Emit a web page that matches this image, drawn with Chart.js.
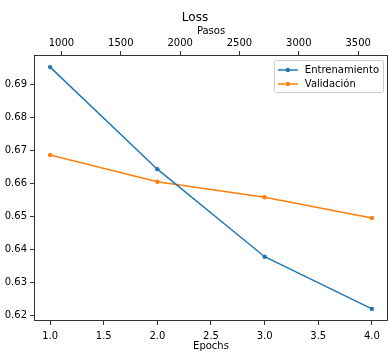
<!DOCTYPE html>
<html>
<head>
<meta charset="utf-8">
<script src="https://cdn.jsdelivr.net/npm/chart.js@4"></script>
<style>
  html, body { margin: 0; padding: 0; background: #fff; }
  #wrap { width: 392px; height: 361px; }
</style>
</head>
<body>
<div id="wrap"><canvas id="lossChart" width="392" height="361"></canvas></div>
<script>
// ---- datos ----
const epochs = [1, 2, 3, 4];
const pasos = [904, 1808, 2712, 3616];
const entrenamiento = [0.6952, 0.6643, 0.6378, 0.6220];
const validacion = [0.6686, 0.6605, 0.6558, 0.6495];

const epochTicks = [1.0, 1.5, 2.0, 2.5, 3.0, 3.5, 4.0];
const pasosTicks = [1000, 1500, 2000, 2500, 3000, 3500];
const lossTicks = [0.62, 0.63, 0.64, 0.65, 0.66, 0.67, 0.68, 0.69];

const FONT = 'DejaVu Sans';
const AZUL = '#1f77b4';
const NARANJA = '#ff7f0e';

// rango con margen del 5% (como matplotlib)
function rango(vals) {
    const lo = Math.min(...vals), hi = Math.max(...vals);
    const m = (hi - lo) * 0.05;
    return [lo - m, hi + m];
}
const [xMin, xMax] = rango(epochs);
const [yMin, yMax] = rango(entrenamiento.concat(validacion));
// eje superior: pasos lineales respecto a epochs
const pasosPorEpoch = (pasos[pasos.length - 1] - pasos[0]) / (epochs[epochs.length - 1] - epochs[0]);
const pasoEnEpoch = e => pasos[0] + (e - epochs[0]) * pasosPorEpoch;

function fijarTicks(lista) {
    return scale => { scale.ticks = lista.map(v => ({ value: v })); };
}

// marco + leyenda dentro del área
const marcoYLeyenda = {
    id: 'marcoYLeyenda',
    afterDraw(chart) {
        const ctx = chart.ctx;
        const a = chart.chartArea;
        ctx.save();
        ctx.strokeStyle = '#000';
        ctx.lineWidth = 0.8;
        ctx.strokeRect(Math.round(a.left) + 0.5, Math.round(a.top) + 0.5,
            Math.round(a.right - a.left) - 1, Math.round(a.bottom - a.top) - 1);

        // leyenda
        ctx.font = '10px "' + FONT + '"';
        const items = chart.data.datasets.map(d => ({ label: d.label, color: d.borderColor }));
        const textW = Math.max(...items.map(i => ctx.measureText(i.label).width));
        const pad = 4, handleLen = 20, handleGap = 7, rowH = 14;
        const w = pad + handleLen + handleGap + textW + pad;
        const h = 2 + rowH * items.length + 2;
        const x = a.right - 5 - w;
        const y = a.top + 5;
        ctx.beginPath();
        ctx.roundRect(x + 0.5, y + 0.5, w, h, 2);
        ctx.fillStyle = 'rgba(255,255,255,0.8)';
        ctx.fill();
        ctx.strokeStyle = '#cccccc';
        ctx.lineWidth = 1;
        ctx.stroke();
        items.forEach((it, i) => {
            const cy = y + 2 + rowH * i + rowH / 2 + 1;
            const hx = x + pad;
            ctx.strokeStyle = it.color;
            ctx.lineWidth = 1.5;
            ctx.beginPath();
            ctx.moveTo(hx, cy);
            ctx.lineTo(hx + handleLen, cy);
            ctx.stroke();
            ctx.fillStyle = it.color;
            ctx.beginPath();
            ctx.arc(hx + handleLen / 2, cy, 2.2, 0, Math.PI * 2);
            ctx.fill();
            ctx.fillStyle = '#000';
            ctx.textBaseline = 'middle';
            ctx.textAlign = 'left';
            ctx.fillText(it.label, hx + handleLen + handleGap, cy);
        });
        ctx.restore();
    }
};

Chart.defaults.font.family = FONT;
Chart.defaults.font.size = 10;
Chart.defaults.color = '#000';

const ejeGrid = { drawOnChartArea: false, tickLength: 4, color: '#000', lineWidth: 0.8 };

new Chart(document.getElementById('lossChart'), {
    type: 'line',
    data: {
        datasets: [
            {
                label: 'Entrenamiento',
                data: epochs.map((e, i) => ({ x: e, y: entrenamiento[i] })),
                borderColor: AZUL,
                backgroundColor: AZUL,
                borderWidth: 1.5,
                pointRadius: 2.2,
                pointBorderWidth: 0,
                fill: false,
                tension: 0
            },
            {
                label: 'Validación',
                data: epochs.map((e, i) => ({ x: e, y: validacion[i] })),
                borderColor: NARANJA,
                backgroundColor: NARANJA,
                borderWidth: 1.5,
                pointRadius: 2.2,
                pointBorderWidth: 0,
                fill: false,
                tension: 0
            }
        ]
    },
    options: {
        responsive: false,
        animation: false,
        layout: { padding: { left: 0, right: 2, top: 0, bottom: 0 } },
        plugins: {
            legend: { display: false },
            tooltip: { enabled: false },
            title: {
                display: true,
                text: 'Loss',
                color: '#000',
                font: { size: 12, weight: 'normal' },
                padding: { top: 10.5, bottom: 0 }
            }
        },
        scales: {
            x: {
                type: 'linear',
                position: 'bottom',
                min: xMin,
                max: xMax,
                afterBuildTicks: fijarTicks(epochTicks),
                afterFit: s => { s.height = 40; },
                ticks: { padding: 5, callback: v => v.toFixed(1), maxRotation: 0, autoSkip: false },
                grid: ejeGrid,
                border: { display: false },
                title: { display: true, text: 'Epochs', padding: { top: 0, bottom: 9 } }
            },
            x2: {
                type: 'linear',
                position: 'top',
                min: pasoEnEpoch(xMin),
                max: pasoEnEpoch(xMax),
                afterBuildTicks: fijarTicks(pasosTicks),
                afterFit: s => { s.height = 55 - 24.9; },
                ticks: { padding: 1.5, callback: v => String(v), maxRotation: 0, autoSkip: false },
                grid: ejeGrid,
                border: { display: false },
                title: { display: true, text: 'Pasos', padding: { top: 1, bottom: 0 } }
            },
            y: {
                type: 'linear',
                position: 'left',
                min: yMin,
                max: yMax,
                afterBuildTicks: fijarTicks(lossTicks),
                afterFit: s => { s.width = 34; },
                ticks: { padding: 3, callback: v => v.toFixed(2), autoSkip: false },
                grid: ejeGrid,
                border: { display: false }
            }
        }
    },
    plugins: [marcoYLeyenda]
});
</script>
</body>
</html>
